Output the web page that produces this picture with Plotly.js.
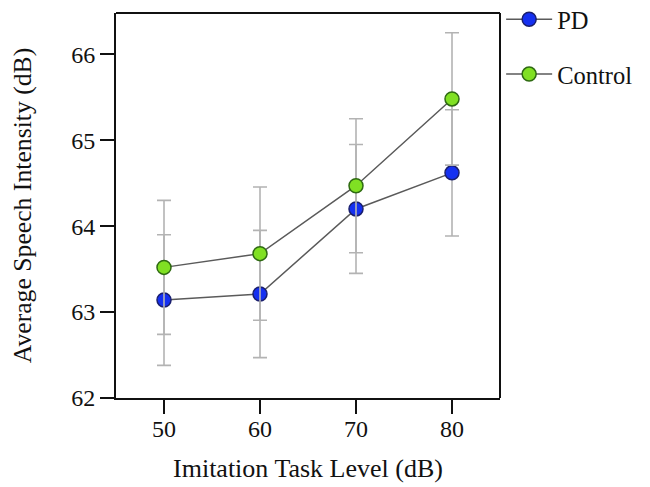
<!DOCTYPE html>
<html>
<head>
<meta charset="utf-8">
<script src="https://cdn.plot.ly/plotly-3.0.1.min.js"></script>
<style>html,body{margin:0;padding:0;background:#fff;}#chart{width:650px;height:487px;}</style>
</head>
<body>
<div id="chart"></div>
<script>
// Data
var levels = [50, 60, 70, 80];
var pdMean = [63.14, 63.21, 64.20, 64.62];
var pdErr = [0.76, 0.74, 0.75, 0.735];
var controlMean = [63.52, 63.68, 64.47, 65.48];
var controlErr = [0.78, 0.775, 0.78, 0.77];
var yTicks = [62, 63, 64, 65, 66];
var xTicks = [50, 60, 70, 80];

var fontFam = '"Liberation Serif", "Times New Roman", serif';

function series(name, y, err, fill, edge, group) {
  return {
    type: 'scatter', mode: 'lines+markers', name: name,
    x: levels, y: y, legendgroup: group,
    line: {color: '#5a5a5a', width: 1.5},
    marker: {size: 14, color: fill, line: {color: edge, width: 1.5}},
    error_y: {type: 'data', array: err, visible: true, color: '#b3b3b3', thickness: 1.6, width: 7}
  };
}

var data = [
  series('PD', pdMean, pdErr, '#1530f0', '#1a1f6e', 'a'),
  series('Control', controlMean, controlErr, '#80e023', '#2e6a12', 'b')
];

var axisCommon = {
  showgrid: false, zeroline: false, showline: true, linecolor: '#111', linewidth: 2,
  ticks: 'outside', ticklen: 14, tickwidth: 2, tickcolor: '#111',
  tickfont: {family: fontFam, size: 24, color: '#111'}
};

var layout = {
  width: 650, height: 487,
  margin: {l: 116, r: 150, t: 13, b: 89, autoexpand: false},
  paper_bgcolor: '#fff', plot_bgcolor: '#fff',
  font: {family: fontFam, color: '#111'},
  xaxis: Object.assign({}, axisCommon, {
    range: [45, 85], tickmode: 'array', tickvals: xTicks, mirror: false,
    ticklabelstandoff: -6,
    title: {text: 'Imitation Task Level (dB)', font: {family: fontFam, size: 26, color: '#111'}, standoff: 18}
  }),
  yaxis: Object.assign({}, axisCommon, {
    range: [62, 66.48], tickmode: 'array', tickvals: yTicks,
    title: {text: 'Average Speech Intensity (dB)', font: {family: fontFam, size: 25.7, color: '#111'}, standoff: 32}
  }),
  shapes: [
    {type: 'line', xref: 'paper', yref: 'paper', x0: 0, x1: 1, y0: 1, y1: 1, line: {color: '#111', width: 2}},
    {type: 'line', xref: 'paper', yref: 'paper', x0: 1, x1: 1, y0: 0, y1: 1, line: {color: '#111', width: 2}}
  ],
  showlegend: true,
  legend: {
    x: 1.003, xanchor: 'left', y: 1.042, yanchor: 'top',
    traceorder: 'grouped', tracegroupgap: 20, itemwidth: 46,
    font: {family: fontFam, size: 24.5, color: '#111'},
    bgcolor: 'rgba(0,0,0,0)'
  }
};

Plotly.newPlot('chart', data, layout, {displayModeBar: false, staticPlot: true});
</script>
</body>
</html>
